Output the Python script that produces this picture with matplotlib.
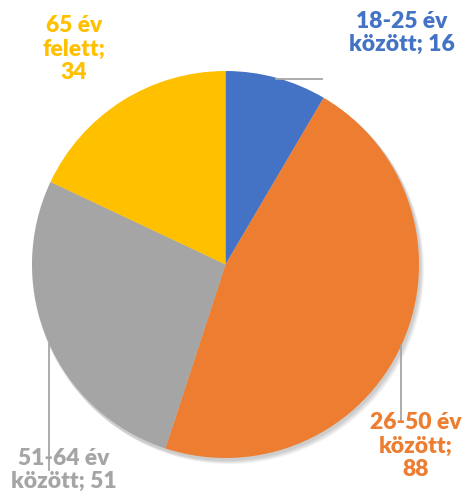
import matplotlib.pyplot as plt
import matplotlib.patches as mpatches

# data
labels = ['18-25 év\nközött; 16', '26-50 év\nközött;\n88',
          '51-64 év\nközött; 51', '65 év\nfelett;\n34']
values = [16, 88, 51, 34]
colors = ['#4472C4', '#ED7D31', '#A5A5A5', '#FFC000']

W, H = 465, 497
fig = plt.figure(figsize=(W / 100, H / 100), dpi=100)
ax = fig.add_axes([0, 0, 1, 1])

cx, cy, r = 225.5, H - 264.5, 193.5

# soft shadow like Excel's
for i in range(4):
    ax.add_patch(mpatches.Circle((cx + 1 + i, cy - 2 - i), r + 1, color='black',
                                 alpha=0.05, lw=0, zorder=1))

ax.pie(values, colors=colors, startangle=90, counterclock=False,
       center=(cx, cy), radius=r, frame=True,
       wedgeprops=dict(linewidth=0, zorder=2))
ax.set_xlim(0, W)
ax.set_ylim(0, H)
ax.set_aspect('equal')
ax.axis('off')

# label positions (pixel coords from top) and leader lines
label_pos = [(402, 33), (416, 446), (64, 470), (74, 49)]
leaders = [((276, 79), (322, 79)), ((401, 346), (401, 420)),
           ((49, 344), (49, 470)), None]

for lab, col, (lx, ly), ld in zip(labels, colors, label_pos, leaders):
    if ld is not None:
        (x0, y0), (x1, y1) = ld
        ax.plot([x0, x1], [H - y0, H - y1], color='#A6A6A6', lw=1.3, zorder=3)
    ax.text(lx, H - ly, lab, color=col, ha='center', va='center',
            fontsize=16.5, fontweight='heavy', family='Lato', linespacing=1.12,
            zorder=4)

fig.savefig('out.png', dpi=100)
